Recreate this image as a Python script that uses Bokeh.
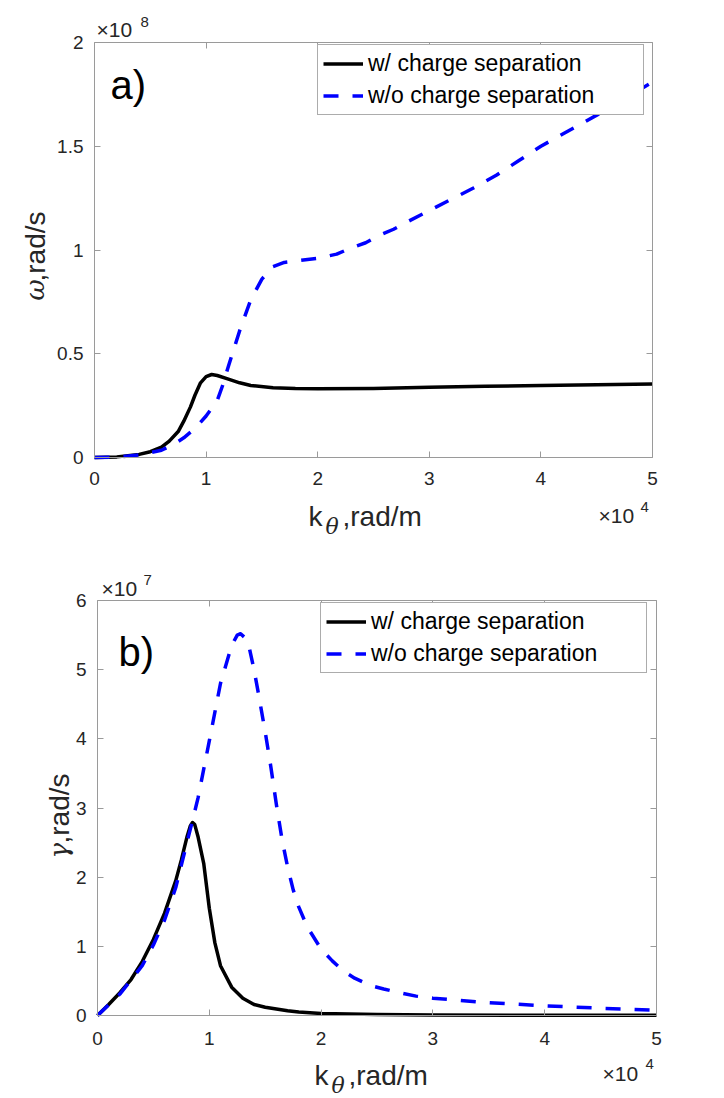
import math
from bokeh.plotting import figure
from bokeh.models import (Range1d, LinearAxis, FixedTicker, Label, Legend,
                          LegendItem, CustomJSTickFormatter)
from bokeh.layouts import column
from bokeh.embed import file_html
from bokeh.resources import INLINE

# ---------------- data ----------------
series_labels = ["w/ charge separation", "w/o charge separation"]

# panel a) : real frequency omega (rad/s) vs k_theta (rad/m)
k_a_w = [0, 2000, 4000, 5000, 6000, 6700, 7500, 8000, 8600, 9000, 9500, 10000,
         10500, 11000, 12000, 13000, 14000, 16000, 18000, 20000, 25000, 30000,
         35000, 40000, 45000, 50000]
omega_w = [0, 3e5, 1.5e6, 2.8e6, 5.0e6, 7.9e6, 1.25e7, 1.75e7, 2.44e7, 3.0e7,
           3.6e7, 3.9e7, 4.0e7, 3.95e7, 3.78e7, 3.6e7, 3.47e7, 3.36e7, 3.32e7,
           3.31e7, 3.33e7, 3.38e7, 3.43e7, 3.47e7, 3.51e7, 3.54e7]

k_a_wo = [0, 2000, 4000, 6000, 7000, 8000, 9000, 10000, 11000, 11500, 12000,
          13000, 14000, 15000, 16000, 17000, 18500, 20000, 21700, 23000, 24300,
          25500, 26800, 28000, 30000, 32000, 34000, 36000, 38000, 40000, 42000,
          44000, 46000, 48000, 50000]
omega_wo = [0, 2e5, 1.2e6, 3.5e6, 6.0e6, 9.5e6, 1.4e7, 2.0e7, 2.75e7, 3.5e7,
            4.4e7, 6.1e7, 7.6e7, 8.6e7, 9.2e7, 9.4e7, 9.5e7, 9.6e7, 9.8e7,
            1.01e8, 1.035e8, 1.07e8, 1.10e8, 1.135e8, 1.19e8, 1.245e8, 1.30e8,
            1.36e8, 1.43e8, 1.50e8, 1.56e8, 1.62e8, 1.68e8, 1.745e8, 1.81e8]

# panel b) : growth rate gamma (rad/s) vs k_theta (rad/m)
k_b_w = [0, 1000, 2000, 3000, 4000, 5000, 6000, 7000, 7500, 8000, 8300, 8500,
         8700, 9000, 9500, 10000, 10500, 11000, 12000, 13000, 14000, 15000,
         17000, 18000, 20000, 25000, 30000, 40000, 50000]
gamma_w = [0, 1.6e6, 3.3e6, 5.2e6, 7.8e6, 1.1e7, 1.48e7, 1.95e7, 2.25e7, 2.58e7,
           2.74e7, 2.79e7, 2.76e7, 2.58e7, 2.2e7, 1.55e7, 1.05e7, 7.2e6, 4.1e6,
           2.5e6, 1.6e6, 1.2e6, 7e5, 5e5, 3e5, 1.4e5, 8e4, 4e4, 2e4]

k_b_wo = [0, 2000, 4000, 5000, 6000, 7000, 8000, 8500, 9000, 10000, 11000,
          12000, 12500, 12800, 13200, 13600, 14000, 14400, 15000, 15500, 16000,
          16500, 17000, 17500, 18000, 18500, 19000, 20000, 21000, 22000, 23000,
          24400, 25600, 27000, 28500, 30000, 35000, 40000, 45000, 50000]
gamma_wo = [0, 3.1e6, 7.2e6, 1.02e7, 1.38e7, 1.85e7, 2.5e7, 2.82e7, 3.15e7,
            3.97e7, 4.8e7, 5.35e7, 5.5e7, 5.52e7, 5.46e7, 5.3e7, 5.0e7, 4.65e7,
            4.1e7, 3.6e7, 3.05e7, 2.55e7, 2.15e7, 1.82e7, 1.57e7, 1.38e7,
            1.22e7, 9.6e6, 7.9e6, 6.4e6, 5.4e6, 4.35e6, 3.84e6, 3.3e6, 2.8e6,
            2.5e6, 1.85e6, 1.4e6, 1.05e6, 7.7e5]

# ticks
k_ticks = [0, 10000, 20000, 30000, 40000, 50000]
k_tick_labels = ["0", "1", "2", "3", "4", "5"]
omega_ticks = [0, 5e7, 1e8, 1.5e8, 2e8]
omega_tick_labels = ["0", "0.5", "1", "1.5", "2"]
gamma_ticks = [0, 1e7, 2e7, 3e7, 4e7, 5e7, 6e7]
gamma_tick_labels = ["0", "1", "2", "3", "4", "5", "6"]

# ---------------- styling ----------------
FONT = "Liberation Sans"
SERIF = "DejaVu Serif"
DESCENT = {FONT: 0.21, SERIF: 0.235}
AXIS_COLOR = "#9a9a9a"
TEXT_COLOR = "#262626"
PAGE_W = 720


def make_panel(xs_w, ys_w, xs_wo, ys_wo, y_ticks, y_tick_labels,
               panel_tag, y_symbol, y_exp, box, fig_h, pos):
    # box: (left, top, width, height) of the axes box inside this figure, px
    bl, bt, bw, bh = box
    x0, x1 = k_ticks[0], k_ticks[-1]
    y0, y1 = y_ticks[0], y_ticks[-1]
    sx = (x1 - x0) / bw
    sy = (y1 - y0) / bh
    x_range = Range1d(x0 - bl * sx, x1 + (PAGE_W - bl - bw) * sx)
    y_range = Range1d(y0 - (fig_h - bt - bh) * sy, y1 + bt * sy)

    p = figure(frame_width=PAGE_W, frame_height=fig_h,
               x_range=x_range, y_range=y_range,
               min_border=0, toolbar_location=None, output_backend="svg",
               background_fill_color="white", border_fill_color="white",
               x_axis_type=None, y_axis_type=None)
    if p.title is not None:
        p.title.visible = False
    p.grid.visible = False
    p.outline_line_color = None

    def px(dx, dy):
        # pixel offsets from the axes box's top-left -> data coordinates
        return x0 + dx * sx, y1 - dy * sy

    def make_axis(ticks, labels, loc, bounds, standoff=10):
        ax = LinearAxis(fixed_location=loc, bounds=bounds,
                        ticker=FixedTicker(ticks=ticks))
        ax.minor_tick_line_color = None
        ax.major_tick_in = 6
        ax.major_tick_out = 0
        ax.major_tick_line_color = AXIS_COLOR
        ax.axis_line_color = AXIS_COLOR
        ax.axis_line_width = 1
        if labels is None:
            ax.formatter = CustomJSTickFormatter(code="return ''")
            ax.major_label_standoff = 0
        else:
            ax.major_label_overrides = {t: l for t, l in zip(ticks, labels)}
            ax.major_label_text_font = FONT
            ax.major_label_text_font_size = "19px"
            ax.major_label_text_color = TEXT_COLOR
            ax.major_label_standoff = standoff
        return ax

    p.add_layout(make_axis(k_ticks, k_tick_labels, y0, (x0, x1),
                           pos["xstandoff"]), "below")
    p.add_layout(make_axis(y_ticks, y_tick_labels, x0, (y0, y1), 11), "left")
    p.add_layout(make_axis(k_ticks, None, y1, (x0, x1)), "above")
    p.add_layout(make_axis(y_ticks, None, x1, (y0, y1)), "right")

    r_w = p.line(xs_w, ys_w, line_color="black", line_width=3.5,
                 line_join="round")
    r_wo = p.line(xs_wo, ys_wo, line_color="#0000ff", line_width=3.5,
                  line_dash="15 14", line_join="round")

    lx_, ly_ = pos["legend"]        # legend top-left, relative to box
    legend_h = 65
    legend = Legend(items=[LegendItem(label=series_labels[0], renderers=[r_w]),
                           LegendItem(label=series_labels[1], renderers=[r_wo])],
                    location=(bl + lx_, fig_h - bt - ly_ - legend_h),
                    label_text_font=FONT, label_text_font_size="23px",
                    label_text_color="black",
                    glyph_width=40, glyph_height=25, label_height=25,
                    label_width=270, label_standoff=5, padding=5, spacing=5,
                    margin=0, border_line_color="#5a5a5a", border_line_width=1,
                    background_fill_color="white", background_fill_alpha=1)
    p.add_layout(legend)

    def add_text(txt, dx, dy, size, font=FONT, style="normal", angle=0.0,
                 color=TEXT_COLOR):
        # (dx, dy) is where the text's baseline starts; the label box is
        # anchored at its bottom, so lift it by the font's descent
        d = DESCENT[font] * size
        if angle == 0.0:
            dy -= d
        else:
            dx -= d
        x, y = px(dx, dy)
        p.add_layout(Label(x=x, y=y, text=txt, text_font=font,
                           text_font_size=f"{size}px", text_font_style=style,
                           text_color=color, text_align="left",
                           text_baseline="alphabetic", angle=angle))

    # panel tag
    add_text(panel_tag, *pos["tag"], 40, color="black")
    # exponent multipliers
    add_text("\u00d710", *pos["yexp"], 21)
    add_text(y_exp, *pos["yexp_sup"], 15)
    add_text("\u00d710", *pos["xexp"], 21)
    add_text("4", *pos["xexp_sup"], 15)
    # x label: k_theta,rad/m
    kx, ky = pos["xlabel"]
    add_text("k", kx, ky, 28)
    add_text("\u03b8", kx + 17, ky + 9, 22, font=SERIF, style="italic")
    add_text(",rad/m", kx + 34, ky, 28)
    # y label: symbol,rad/s (rotated, reading upwards)
    lx, ly = pos["ylabel"]
    add_text(y_symbol, lx, ly, 26, font=SERIF, style="italic",
             angle=math.pi / 2)
    add_text(",rad/s", lx, ly - pos["sym_w"], 28, angle=math.pi / 2)
    return p


pa = make_panel(k_a_w, omega_w, k_a_wo, omega_wo, omega_ticks,
                omega_tick_labels, "a)", "\u03c9", "8",
                (94, 42, 558, 415), 560,
                {"legend": (223, 8), "tag": (16, 51), "xstandoff": 14,
                 "yexp": (2, -9), "yexp_sup": (46, -17),
                 "xexp": (504, 477), "xexp_sup": (546, 468),
                 "xlabel": (214, 480), "ylabel": (-53, 258), "sym_w": 19})

pb = make_panel(k_b_w, gamma_w, k_b_wo, gamma_wo, gamma_ticks,
                gamma_tick_labels, "b)", "\u03b3", "7",
                (97, 40, 559, 415), 538,
                {"legend": (223, 8), "tag": (21, 60), "xstandoff": 16,
                 "yexp": (4, -8), "yexp_sup": (46, -17),
                 "xexp": (505, 477), "xexp_sup": (548, 467),
                 "xlabel": (217, 481), "ylabel": (-32, 258), "sym_w": 15})

layout = column(pa, pb)
open("out.html", "w").write(file_html(layout, INLINE))
